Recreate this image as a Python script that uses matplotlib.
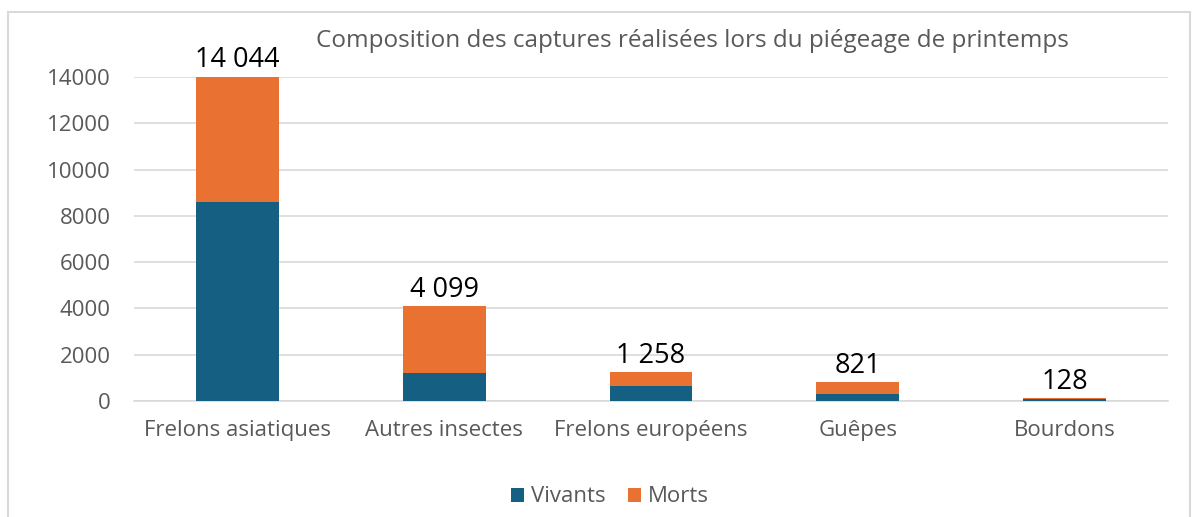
import matplotlib
matplotlib.use("Agg")
import matplotlib.pyplot as plt
import matplotlib.patches as mpatches

plt.rcParams['font.family'] = ['Open Sans', 'DejaVu Sans']

# données
categories = ['Frelons asiatiques', 'Autres insectes', 'Frelons européens', 'Guêpes', 'Bourdons']
vivants = [8580, 1220, 640, 300, 75]
morts = [5464, 2879, 618, 521, 53]
totaux = ['14 044', '4 099', '1 258', '821', '128']
yticks = [0, 2000, 4000, 6000, 8000, 10000, 12000, 14000]

bleu = '#156082'
orange = '#E97132'
gris = '#595959'

fig = plt.figure(figsize=(11.94, 5.17), dpi=100)
# cadre du graphique
fig.patches.append(mpatches.Rectangle((8 / 1194, -0.1), 1182 / 1194, 1.1 - 12 / 517,
                                      transform=fig.transFigure, fill=False,
                                      edgecolor='#D9D9D9', linewidth=1.5))

ax = fig.add_axes([134 / 1194, 1 - 401 / 517, 1034 / 1194, 324 / 517])
x = range(len(categories))
ax.bar(x, vivants, width=0.4, color=bleu, label='Vivants', zorder=3)
ax.bar(x, morts, width=0.4, bottom=vivants, color=orange, label='Morts', zorder=3)

for i, t in enumerate(totaux):
    ax.text(i, vivants[i] + morts[i] + 80, t, ha='center', va='bottom',
            fontsize=19.5, color='black')

ax.set_xlim(-0.5, len(categories) - 0.5)
ax.set_ylim(0, 14000)
ax.set_yticks(yticks)
ax.set_yticklabels([str(v) for v in yticks], color=gris, fontsize=16)
ax.set_xticks(list(x))
ax.set_xticklabels(categories, color=gris, fontsize=16)
ax.tick_params(axis='both', length=0)
ax.tick_params(axis='y', pad=17)
ax.tick_params(axis='x', pad=14)
ax.yaxis.grid(True, color='#D9D9D9', linewidth=1.2, zorder=0)
for s in ['top', 'right', 'left']:
    ax.spines[s].set_visible(False)
ax.spines['bottom'].set_color('#D9D9D9')
ax.spines['bottom'].set_linewidth(1.2)

fig.text(692 / 1194, 1 - 41 / 517, 'Composition des captures réalisées lors du piégeage de printemps',
         ha='center', va='center', fontsize=17.5, color=gris)

leg = fig.legend(loc='center', bbox_to_anchor=(610 / 1194, 1 - 497 / 517), ncol=2,
                 frameon=False, fontsize=16, handlelength=0.6, handleheight=0.6,
                 columnspacing=1.0, handletextpad=0.3)
for t in leg.get_texts():
    t.set_color(gris)

fig.savefig('out.png', dpi=100)
